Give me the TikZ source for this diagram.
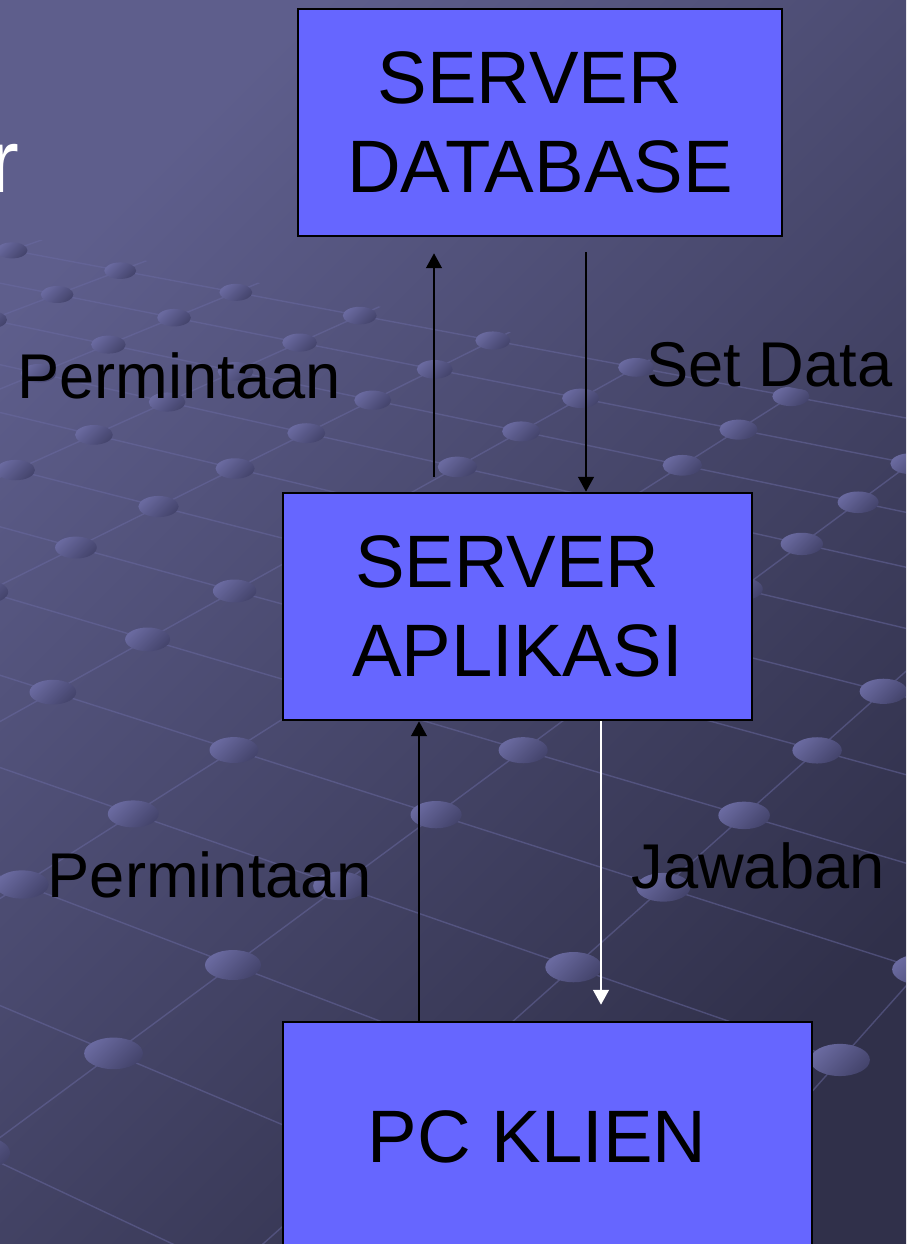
\documentclass[tikz,border=0pt]{standalone}
\usepackage{fontspec}
\setmainfont{Liberation Sans}
\usetikzlibrary{arrows.meta}

\definecolor{bgtop}{HTML}{5E5E8C}
\definecolor{bgbot}{HTML}{30304A}
\definecolor{boxfill}{HTML}{6666FF}
\definecolor{gridc}{HTML}{6A6AA2}
\definecolor{dotlt}{HTML}{6A6AA0}
\definecolor{dotdk}{HTML}{44446C}

\tikzset{
  tier/.style={draw=black, line width=1.4pt, fill=boxfill, align=center,
    inner sep=0pt, font=\fontsize{42.3}{50.5}\selectfont},
  flowlabel/.style={inner sep=0pt, font=\fontsize{36}{43}\selectfont},
  flow/.style={line width=1.6pt, -{Triangle[width=0.31cm,length=0.3cm]}},
  gridline/.style={draw=gridc, line width=0.8pt, opacity=0.5},
  griddot/.style={top color=dotlt, bottom color=dotdk, shading angle=45},
  declare function={
    gx(\p,\q)=(233+\p*125.76-\q*209.5)/(1+\p*0.0555+\q*0.0648);
    gy(\p,\q)=(965-\p*29.97-\q*23.2)/(1+\p*0.0555+\q*0.0648);
  }
}
\newcommand{\tail}{\hspace*{0.41cm}}

\begin{document}
\begin{tikzpicture}[x=0.02cm, y=-0.02cm]
    \useasboundingbox (0,0) rectangle (906,1244);
    \clip (0,0) rectangle (906,1244);
    \shade[top color=bgtop, bottom color=bgbot, shading angle=45] (0,0) rectangle (906,1244);

    \begin{scope}
        \clip (0,232) -- (906,410) -- (906,1244) -- (0,1244) -- cycle;
        \foreach \gw in {-2,...,8}
            \draw[gridline] ({gx(-6,\gw)},{gy(-6,\gw)}) -- ({gx(11,\gw)},{gy(11,\gw)});
        \foreach \gu in {-6,...,11}
            \draw[gridline] ({gx(\gu,-2)},{gy(\gu,-2)}) -- ({gx(\gu,8)},{gy(\gu,8)});
        \foreach \gu in {-6,...,11}
            \foreach \gw in {-2,...,8} {
                \pgfmathsetmacro{\dd}{1+\gu*0.0555+\gw*0.0648}
                \pgfmathsetmacro{\rx}{0.56/\dd^0.85}
                \pgfmathsetmacro{\ry}{0.30/\dd^0.9}
                \shade[griddot] ({gx(\gu,\gw)},{gy(\gu,\gw)}) ellipse [x radius=\rx cm, y radius=\ry cm];
            }
    \end{scope}

    \node[anchor=base east, inner sep=0pt, text=white, font=\fontsize{51}{60}\selectfont] (title) at (20,192) {r};

    \node[tier, minimum width=9.68cm, minimum height=4.54cm] (db) at (540,122.5) {SERVER\tail\\DATABASE};
    \node[tier, minimum width=9.38cm, minimum height=4.54cm] (app) at (517.5,606.5) {SERVER\tail\\APLIKASI};
    \node[tier, minimum width=10.58cm, minimum height=4.6cm] (pc) at (547.5,1137) {PC KLIEN\tail};

    \node[flowlabel] (req1) at (179,376) {Permintaan};
    \node[flowlabel] (data) at (769.5,364.5) {Set Data};
    \node[flowlabel] (req2) at (209.5,875) {Permintaan};
    \node[flowlabel] (resp) at (758,866) {Jawaban};

    \coordinate (lane1) at (434,0);
    \coordinate (lane2) at (586,0);
    \coordinate (lane3) at (419,0);
    \coordinate (lane4) at (601,0);

    \draw[flow, shorten <=0.3cm, shorten >=0.32cm] (app.north -| lane1) -- (db.south -| lane1);
    \draw[flow, shorten <=0.3cm] (db.south -| lane2) -- (app.north -| lane2);
    \draw[flow] (pc.north -| lane3) -- (app.south -| lane3);
    \draw[flow, draw=white, shorten >=0.32cm] (app.south -| lane4) -- (pc.north -| lane4);
\end{tikzpicture}
\end{document}
